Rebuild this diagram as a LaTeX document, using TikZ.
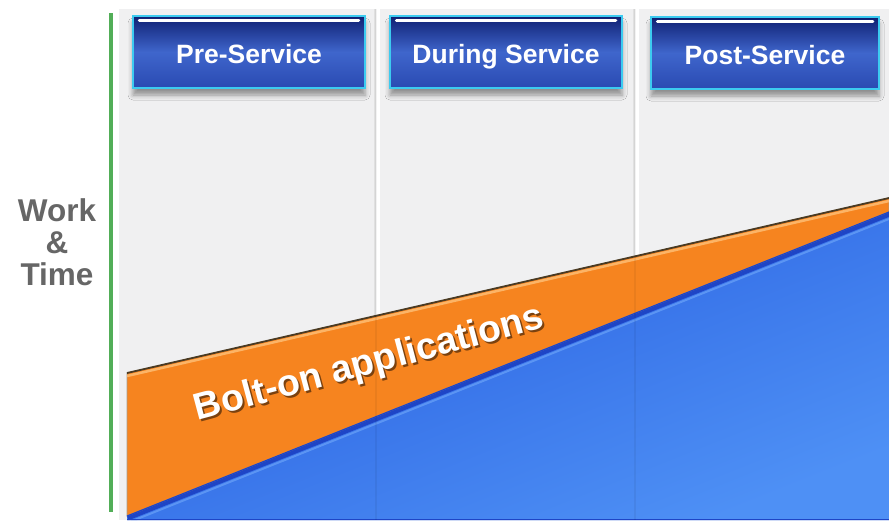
\documentclass[tikz,border=0pt]{standalone}
\usepackage{fontspec}
\setmainfont{Liberation Sans}
\usetikzlibrary{shadows.blur}

\definecolor{panelgris}{HTML}{F0F0F1}
\definecolor{verde}{HTML}{52AE58}
\definecolor{azulosc}{HTML}{0F1F72}
\definecolor{azulmed}{HTML}{3F66CC}
\definecolor{azulbajo}{HTML}{2A4AB2}
\definecolor{cian}{HTML}{3CCBF0}
\definecolor{naranja}{HTML}{F6841F}
\definecolor{naranjaclaro}{HTML}{FCB466}
\definecolor{marron}{HTML}{4A3A22}
\definecolor{azulfondo}{HTML}{4E90F5}
\definecolor{azulmedio}{HTML}{3A76EA}
\definecolor{azulborde}{HTML}{1E45C6}
\definecolor{azulbrillo}{HTML}{6AA2F8}
\definecolor{textogris}{HTML}{666666}

\tikzset{
  cabecera/.style={draw=cian, line width=1.5pt, minimum width=232pt, minimum height=72pt,
    text height=22pt, text depth=0pt,
    top color=azulosc, bottom color=azulbajo, middle color=azulmed,
    text=white, font=\bfseries\fontsize{26.5}{30}\selectfont,
    blur shadow={shadow xshift=0pt, shadow yshift=-7pt, shadow blur radius=5pt, shadow opacity=40}},
  bolttexto/.style={anchor=base, rotate=15, inner sep=0pt, font=\bfseries\fontsize{37.5}{40}\selectfont},
}

\begin{document}
\begin{tikzpicture}[x=1pt, y=-1pt]
    \useasboundingbox (0,0) rectangle (889,520);
    \fill[white] (0,0) rectangle (889,520);

    % Columnas
    \fill[panelgris] (119,9) rectangle (374,520);
    \fill[panelgris] (380,9) rectangle (633,520);
    \fill[panelgris] (639,9) rectangle (889,520);
    \foreach \xs in {374,633} {
        \fill[black!12] (\xs,9) rectangle (\xs+2,520);
    }

    % Eje vertical
    \draw[verde, line width=3.5pt] (111,13) -- (111,512);
    \node[anchor=north, align=center, inner sep=0pt, text=textogris,
          font=\bfseries\fontsize{31.5}{32}\selectfont] (eje) at (57,198) {Work\\\&\\Time};

    % Cabeceras
    \node[cabecera] (pre) at (249,52) {Pre-Service};
    \node[cabecera] (durante) at (506,52) {During Service};
    \node[cabecera, minimum width=228pt] (post) at (765,53) {Post-Service};
    \foreach \cab in {pre,durante,post} {
        \draw[white, line width=3pt, line cap=round]
            ([xshift=7pt,yshift=-5pt]\cab.north west) -- ([xshift=-7pt,yshift=-5pt]\cab.north east);
    }

    % Coordenadas de las zonas
    \coordinate (N_izq) at (127,373);
    \coordinate (N_der) at (889,198);
    \coordinate (A_izq) at (127,516);
    \coordinate (A_der) at (889,212);

    % Zona azul
    \shade[top color=azulborde, bottom color=azulfondo, middle color=azulmedio, shading angle=21.8]
        (A_izq) -- (A_der) -- (889,520) -- (127,520) -- cycle;
    \begin{scope}
        \clip (A_izq) -- (A_der) -- (889,520) -- (127,520) -- cycle;
        \draw[azulborde, line width=9pt] (A_izq) -- (A_der);
        \draw[azulbrillo, line width=2pt, opacity=0.7] ([yshift=-7pt]A_izq) -- ([yshift=-7pt]A_der);
        \draw[azulborde, line width=3pt] (127,520) -- (889,520);
    \end{scope}

    % Banda naranja
    \filldraw[fill=naranja, draw=marron!50, line width=0.8pt]
        (N_izq) -- (N_der) -- (A_der) -- (A_izq) -- cycle;
    \begin{scope}
        \clip (N_izq) -- (N_der) -- (A_der) -- (A_izq) -- cycle;
        \draw[naranjaclaro, line width=2.5pt] ([yshift=-3pt]N_izq) -- ([yshift=-3pt]N_der);
    \end{scope}
    \draw[marron, line width=1.8pt] (N_izq) -- (N_der);
    \draw[azulborde, line width=1.2pt] (A_izq) -- (A_der);

    % Sombra de las columnas sobre las zonas
    \foreach \xs in {375,634} {
        \fill[black, opacity=0.05] (\xs,9) rectangle (\xs+2,520);
    }

    % Texto de la banda
    \node[bolttexto, text=black, opacity=0.5] (boltsombra) at (374,376) {Bolt-on applications};
    \node[bolttexto, text=white] (bolt) at (372,374) {Bolt-on applications};
\end{tikzpicture}
\end{document}
